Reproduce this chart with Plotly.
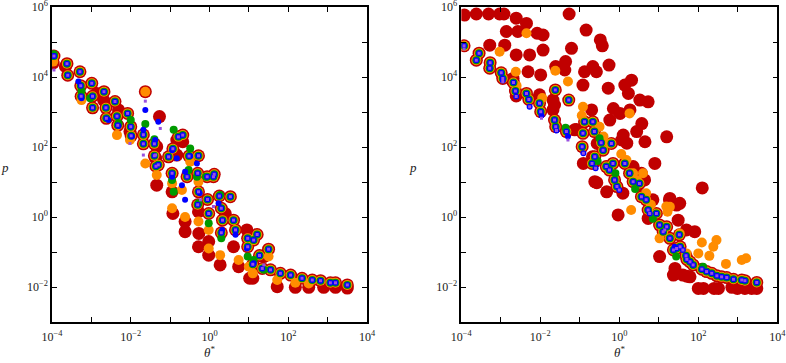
import plotly.graph_objects as go
from plotly.subplots import make_subplots

# values, as (log10 theta*, log10 p) pairs

# left panel: stacks where all five runs sit on top of each other
left_core = [
    (-3.95, 4.60), (-3.62, 4.38), (-3.60, 4.05), (-3.29, 4.15), (-3.27, 3.75), (-3.26, 3.45),
    (-2.99, 3.82), (-2.97, 3.45), (-2.97, 3.12), (-2.68, 3.58), (-2.63, 3.12), (-2.62, 2.82),
    (-2.40, 3.30), (-2.35, 2.88), (-2.33, 2.62), (-2.08, 2.96), (-2.00, 2.58), (-1.99, 2.32),
    (-1.68, 2.35), (-1.68, 2.09), (-1.40, 2.09), (-1.40, 1.75), (-1.36, 1.45), (-1.30, 1.49),
    (-1.04, 1.72), (-0.93, 1.95), (-0.95, 1.25), (-0.79, 2.29), (-0.68, 2.34), (-0.52, 1.74),
    (-0.57, 1.15), (-0.28, 1.75), (-0.30, 1.25), (-0.28, 0.72), (-0.30, 0.35), (0.12, 1.22),
    (-0.06, 1.15), (0.10, 1.15), (-0.05, 0.50), (-0.02, 0.10), (0.25, 0.60), (0.30, 0.25),
    (0.33, -0.09), (0.30, -0.45), (0.53, 0.58), (0.61, -0.09), (0.66, -0.37), (0.97, -0.61),
    (0.97, -0.85), (1.21, -0.50), (1.12, -0.66), (1.27, -1.10), (1.10, -1.35), (1.50, -0.92),
    (1.34, -1.47), (1.55, -1.51), (1.80, -1.61), (2.06, -1.66), (2.35, -1.75), (2.61, -1.80),
    (2.82, -1.82), (3.07, -1.88), (3.20, -1.88), (3.50, -1.94),
]
left_red = [
    (-3.97, 4.40), (-3.66, 4.30), (-2.86, 3.53), (-2.69, 3.34), (-2.31, 3.06), (-2.02, 2.44),
    (-1.63, 3.58), (-1.27, 2.87), (-1.34, 2.01), (-1.37, 1.68), (-1.34, 0.91), (-0.83, 2.20),
    (-0.83, 1.77), (-0.68, 2.15), (-0.95, 0.72), (-0.93, 0.10), (-0.62, -0.13), (-0.62, -0.42),
    (-0.28, 0.15), (-0.27, -0.47), (-0.28, -0.85), (-0.02, -0.70), (-0.02, -1.09), (0.40, 0.10),
    (0.27, -1.37), (0.61, -0.85), (0.74, -1.42), (0.95, -0.37), (1.02, -1.75), (1.10, -1.75),
    (1.38, -1.13), (1.72, -1.99), (2.18, -2.01), (2.52, -2.01), (2.90, -2.01), (3.20, -2.01),
    (3.50, -2.03),
]
left_orange = [
    (-3.97, 4.44), (-3.25, 3.34), (-2.35, 2.34), (-2.02, 2.20), (-1.63, 3.58), (-1.63, 1.53),
    (-1.34, 1.20), (-0.49, 1.58), (-0.95, 0.96), (-0.95, 0.25), (-0.70, 0.77), (-0.62, 0.00),
    (-0.28, 1.01), (-0.28, -0.13), (-0.02, -0.37), (-0.02, -0.90), (0.27, -1.09), (0.74, -1.23),
    (1.10, -1.61), (1.50, -1.13), (1.00, -1.42), (1.72, -1.80), (2.18, -1.88), (2.52, -1.90),
]
left_green = [
    (-3.95, 4.65), (-3.25, 3.61), (-3.03, 3.39), (-2.31, 2.68), (-2.00, 2.77), (-1.63, 2.66),
    (-1.40, 2.22), (-0.91, 2.49), (-0.49, 1.96), (-0.53, 1.34), (-0.32, 1.15), (-0.28, 0.39),
    (-0.09, 1.15), (-0.02, -0.18), (0.27, 0.63), (0.30, -0.61), (0.97, -1.13), (1.12, -1.23),
    (1.38, -1.51), (-0.95, 1.06), (-0.91, 0.72),
]
left_blue = [
    (-3.95, 4.60), (-3.33, 3.87), (-3.25, 3.39), (-2.57, 2.77), (-2.31, 2.60), (-1.97, 2.30),
    (-1.68, 2.49), (-1.63, 3.06), (-1.30, 2.72), (-1.38, 2.20), (-0.95, 1.91), (-0.83, 1.68),
    (-0.95, 1.15), (-0.49, 1.74), (-0.62, 1.29), (-0.70, 0.91), (-0.62, 0.49), (-0.32, 1.53),
    (-0.25, 0.68), (0.23, 0.39), (0.32, -0.37), (0.66, -0.51), (0.95, -0.90), (1.12, -1.32),
]
left_purple = [
    (-3.95, 4.20), (-2.02, 2.10), (-1.63, 3.31), (-1.25, 2.53), (-1.37, 1.77), (-1.68, 1.77),
    (-0.23, 0.49), (1.38, -1.37), (0.10, 0.30),
]

# right panel
right_core = [
    (-3.93, 4.89), (-3.55, 4.68), (-3.62, 4.48), (-3.27, 4.41), (-3.28, 4.25), (-2.99, 4.12),
    (-2.95, 3.96), (-2.68, 3.84), (-2.63, 3.60), (-2.35, 3.53), (-2.29, 3.36), (-2.02, 3.25),
    (-1.99, 3.01), (-1.62, 3.63), (-1.64, 2.77), (-1.61, 2.58), (-1.28, 3.34), (-1.34, 2.44),
    (-0.88, 2.72), (-0.92, 2.39), (-0.94, 2.01), (-0.67, 2.72), (-0.63, 2.44), (-0.69, 1.53),
    (-0.62, 1.72), (-0.46, 2.12), (-0.41, 1.91), (-0.20, 2.10), (-0.33, 1.44), (-0.25, 1.34),
    (-0.16, 1.53), (-0.12, 1.06), (-0.06, 0.87), (0.14, 1.53), (0.26, 1.25), (0.35, 1.01),
    (0.51, 0.96), (0.56, 0.58), (0.68, 0.49), (0.73, 0.20), (0.94, 0.10), (1.02, -0.23),
    (1.11, -0.42), (1.20, -0.28), (1.28, -0.61), (1.37, -0.94), (1.45, -0.90), (1.52, -0.51),
    (1.54, -0.85), (1.69, -1.11), (1.71, -1.21), (1.79, -1.28), (1.87, -1.37), (2.09, -1.49),
    (2.21, -1.56), (2.34, -1.61), (2.47, -1.68), (2.59, -1.71), (2.72, -1.73), (2.89, -1.78),
    (3.10, -1.80), (3.18, -1.82), (3.48, -1.87),
]
right_red = [
    (-3.92, 5.77), (-3.62, 5.80), (-3.31, 5.80), (-3.03, 5.80), (-2.92, 5.80), (-2.61, 5.68),
    (-1.27, 5.80), (-2.35, 5.53), (-2.08, 5.25), (-1.93, 5.20), (-2.57, 5.30), (-2.86, 5.30),
    (-0.84, 5.34), (-0.48, 5.06), (-0.43, 4.89), (-1.21, 4.82), (-3.28, 4.91), (-2.90, 4.91),
    (-2.61, 4.63), (-2.27, 4.63), (-1.93, 4.77), (-0.67, 4.30), (-0.26, 4.34), (-0.58, 4.15),
    (-1.36, 4.44), (-1.61, 4.30), (-2.31, 4.15), (-1.99, 4.06), (-0.88, 4.15), (-0.92, 3.77),
    (-1.38, 4.20), (-0.28, 3.68), (0.14, 3.77), (0.31, 3.91), (0.23, 3.53), (0.52, 3.34),
    (0.73, 3.29), (-0.15, 3.10), (0.02, 2.96), (0.27, 3.06), (-0.24, 2.77), (0.57, 2.67),
    (0.44, 2.44), (0.65, 2.15), (1.20, 2.29), (0.10, 2.34), (0.06, 2.20), (0.19, 2.11),
    (-0.70, 3.06), (-0.62, 1.58), (-0.91, 1.53), (-0.62, 1.01), (-0.32, 0.72), (-0.03, 0.06),
    (0.90, 1.53), (0.35, 1.44), (0.73, -0.04), (1.28, 0.53), (1.45, 0.34), (-1.68, 3.34),
    (-1.68, 3.06), (-2.03, 3.34), (-2.61, 3.46), (-2.72, 3.91), (-2.69, 3.96), (-2.02, 3.49),
    (-1.64, 3.20), (-1.13, 2.49), (-1.09, 2.50), (-0.56, 2.10), (-0.68, 1.72), (-0.57, 0.98),
    (0.09, 0.68), (0.56, 1.25), (0.64, 1.06), (0.47, 0.91), (0.85, 0.49), (1.27, 0.49),
    (1.53, 0.39), (1.49, -0.09), (1.70, -0.37), (1.91, -0.42), (2.10, 0.83), (1.02, -1.13),
    (1.40, -1.61), (1.61, -1.66), (1.71, -1.69), (1.79, -1.71), (1.37, -1.66), (1.41, -1.47),
    (2.00, -2.04), (2.13, -2.04), (2.40, -2.04), (2.51, -2.04), (2.85, -2.01), (2.99, -2.04),
    (3.18, -2.04), (3.35, -2.04), (3.48, -2.04),
]
right_orange = [
    (-3.93, 4.89), (-2.35, 5.25), (-3.03, 4.72), (-2.62, 4.15), (-1.62, 4.18), (-1.30, 3.87),
    (-0.92, 3.15), (0.26, 2.96), (-0.50, 2.58), (-0.24, 2.10), (0.18, 1.63), (0.35, 1.25),
    (0.60, 1.25), (0.68, 0.68), (0.30, 0.20), (1.19, 0.30), (1.22, 0.15), (1.02, -0.61),
    (1.70, -1.04), (2.46, -0.66), (2.09, -0.73), (2.38, -0.85), (2.28, -1.11), (2.00, -1.04),
    (2.70, -1.34), (3.10, -1.23), (3.21, -1.18), (1.53, -0.47), (1.28, 0.29), (-0.95, 2.90),
    (-0.40, 2.30), (0.05, 1.80), (0.45, 1.05), (0.80, 0.35), (-1.95, 3.40), (-2.60, 3.75),
]
right_green = [
    (-0.50, 2.25), (1.44, -1.13), (2.12, -1.42), (-1.36, 2.55), (-0.55, 1.60), (0.40, 0.80),
    (0.85, -0.05), (-0.10, 1.25),
]
right_blue = [
    (-2.95, 3.90), (-1.97, 2.90), (-1.30, 2.30), (-0.91, 1.82), (-0.60, 1.39), (0.00, 0.77),
    (0.77, 0.10), (1.40, -0.85), (1.61, -0.94), (-2.27, 3.15), (-2.61, 3.44), (-1.59, 2.47),
]
right_purple = [
    (-3.93, 4.80), (-2.95, 3.87), (-2.61, 3.44), (-2.27, 3.15), (-1.97, 2.82), (-1.59, 2.47),
    (-1.30, 2.20), (-0.91, 1.82), (-0.60, 1.39), (0.00, 0.77), (0.77, 0.10), (1.61, -0.94),
    (1.15, -0.37),
]

# run styles, drawn bottom to top
styles = [
    ("red", "#c00000", 13, "circle"),
    ("orange", "#ff8c00", 10, "circle"),
    ("green", "#009a00", 8, "circle"),
    ("blue", "#0000ff", 6, "circle"),
    ("purple", "#9a50e0", 3, "square"),
]
panels = {
    1: dict(core=left_core, red=left_red, orange=left_orange, green=left_green,
            blue=left_blue, purple=left_purple),
    2: dict(core=right_core, red=right_red, orange=right_orange, green=right_green,
            blue=right_blue, purple=right_purple),
}

fig = make_subplots(rows=1, cols=2)

for col, data in panels.items():
    for name, color, size, symbol in styles:
        pts = data["core"] + data[name]
        fig.add_trace(go.Scatter(
            x=[10 ** a for a, b in pts],
            y=[10 ** b for a, b in pts],
            mode="markers",
            marker=dict(color=color, size=size, symbol=symbol, line=dict(width=0)),
            name=name, showlegend=False, hoverinfo="skip",
        ), row=1, col=col)

xvals = [10.0 ** k for k in range(-4, 5)]
xtext = ["10<sup>%s</sup>" % str(k).replace("-", "\u2212") if k % 2 == 0 else "" for k in range(-4, 5)]
yvals = [10.0 ** k for k in range(-3, 7)]
ytext = ["10<sup>%s</sup>" % str(k).replace("-", "\u2212") if k % 2 == 0 else "" for k in range(-3, 7)]

axis_common = dict(type="log", showgrid=False, zeroline=False, showline=True,
                   linecolor="black", linewidth=1.5, mirror="ticks", ticks="inside",
                   ticklen=5, tickwidth=1, tickcolor="black", automargin=False,
                   ticklabeloverflow="allow",
                   tickfont=dict(family="Liberation Serif", size=12, color="#222"))

x_domains = [(52 / 786, 367 / 786), (461.3 / 786, 777.3 / 786)]
y_domain = (1 - 322 / 363, 1 - 7 / 363)

for i, dom in enumerate(x_domains, start=1):
    fig.update_xaxes(range=[-4, 4], tickvals=xvals, ticktext=xtext, domain=list(dom),
                     ticklabelstandoff=3, **axis_common, row=1, col=i)
    fig.update_yaxes(range=[-3, 6], tickvals=yvals, ticktext=ytext, domain=list(y_domain),
                     **axis_common, row=1, col=i)

# axis titles
for dom, px_x in zip(x_domains, (5, 413)):
    fig.add_annotation(x=px_x / 786, y=1 - 167 / 363, xref="paper", yref="paper",
                       xanchor="center", yanchor="middle",
                       text="<i>p</i>", showarrow=False,
                       font=dict(family="Liberation Serif", size=13, color="#222"))
    fig.add_annotation(x=(dom[0] + dom[1]) / 2, y=1 - 352 / 363, xref="paper", yref="paper",
                       xanchor="center", yanchor="middle",
                       text="<i>θ</i><sup>*</sup>", showarrow=False,
                       font=dict(family="Liberation Serif", size=13, color="#222"))

fig.update_layout(
    width=786, height=363,
    margin=dict(l=0, r=0, t=0, b=0),
    plot_bgcolor="white", paper_bgcolor="white",
)

# page body has a default 8px margin; drop it so the figure sits at the window corner
fig.write_html("out.html", config={"displayModeBar": False},
               post_script="document.body.style.margin = '0px';")
